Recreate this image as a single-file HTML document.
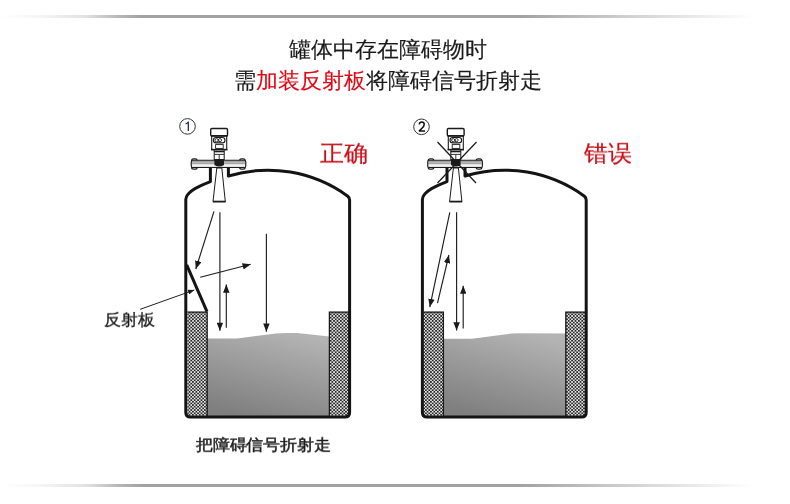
<!DOCTYPE html>
<html><head><meta charset="utf-8">
<style>
html,body{margin:0;padding:0;background:#fff;}
body{width:790px;height:504px;position:relative;overflow:hidden;font-family:"Liberation Sans",sans-serif;}
.t{position:absolute;white-space:nowrap;line-height:1;will-change:transform;}
.hr{position:absolute;left:0;width:790px;height:3px;background:linear-gradient(to right,rgba(160,160,160,0) 0px,rgba(160,160,160,.1) 40px,rgba(160,160,160,.3) 85px,rgba(160,160,160,.75) 118px,#a2a2a2 142px,#a2a2a2 520px,rgba(160,160,160,.4) 650px,rgba(160,160,160,0) 752px);}
svg{position:absolute;left:0;top:0;}
</style></head><body>
<div class="hr" style="top:15px"></div>
<div class="hr" style="top:484px"></div>

<div class="t" style="left:289px;top:39px;font-size:22px;color:#1a1a1a;-webkit-text-stroke:0.15px #1a1a1a">罐体中存在障碍物时</div>
<div class="t" style="left:234px;top:70px;font-size:22px;color:#1a1a1a;-webkit-text-stroke:0.15px #1a1a1a">需<span style="color:#de0a14;-webkit-text-stroke:0.15px #de0a14">加装反射板</span>将障碍信号折射走</div>
<div class="t" style="left:320px;top:140.7px;font-size:24px;color:#c90f19;-webkit-text-stroke:0.2px #c90f19;transform:scaleY(0.95);transform-origin:0 100%">正确</div>
<div class="t" style="left:583.5px;top:140.7px;font-size:24px;color:#c90f19;-webkit-text-stroke:0.2px #c90f19;transform:scaleY(0.95);transform-origin:0 100%">错误</div>
<div class="t" style="left:104.2px;top:311px;font-size:17.2px;color:#1a1a1a;-webkit-text-stroke:0.3px #1a1a1a;transform:scaleY(0.95);transform-origin:0 100%">反射板</div>
<div class="t" style="left:196.3px;top:436.6px;font-size:16.6px;letter-spacing:-0.2px;-webkit-text-stroke:0.5px #1e1e1e;transform:scaleY(0.93);transform-origin:0 100%;color:#1e1e1e">把障碍信号折射走</div>

<svg width="790" height="504" viewBox="0 0 790 504">
<defs>
<pattern id="hatch" width="3.4" height="3.3" patternUnits="userSpaceOnUse">
<rect width="3.4" height="3.3" fill="#ebebeb"/>
<path d="M0,0 H1.8 V1.75 H0 Z M1.7,1.65 H3.4 V3.3 H1.7 Z" fill="#262626"/>
</pattern>
<linearGradient id="liq" x1="0.3" y1="1" x2="0.7" y2="0">
<stop offset="0" stop-color="#7f7f7f"/><stop offset="1" stop-color="#b3b3b3"/>
</linearGradient>
<marker id="ah" viewBox="0 0 10 8" refX="10" refY="4" markerWidth="8.5" markerHeight="6.5" markerUnits="userSpaceOnUse" orient="auto">
<path d="M0,0 L10,4 L0,8 Z" fill="#1a1a1a"/>
</marker>
<marker id="ahs" viewBox="0 0 10 8" refX="10" refY="4" markerWidth="7" markerHeight="5" markerUnits="userSpaceOnUse" orient="auto">
<path d="M0,0 L10,4 L0,8 Z" fill="#1a1a1a"/>
</marker>
<g id="meter">
 <rect x="210.7" y="128.5" width="16.8" height="7.4" rx="1.2" fill="#fff" stroke="#1a1a1a" stroke-width="1.4"/>
 <rect x="211.7" y="136" width="15" height="13.6" fill="#fff" stroke="#1a1a1a" stroke-width="1.1"/>
 <line x1="211" y1="135.9" x2="227.4" y2="135.9" stroke="#1a1a1a" stroke-width="1.6"/>
 <rect x="213.4" y="137.5" width="11.6" height="5.4" rx="2.7" fill="#fff" stroke="#1a1a1a" stroke-width="1.1"/>
 <circle cx="216.6" cy="140.2" r="1.6" fill="none" stroke="#1a1a1a" stroke-width="0.9"/>
 <circle cx="219.9" cy="140.2" r="1.6" fill="none" stroke="#1a1a1a" stroke-width="0.9"/>
 <circle cx="219.2" cy="141.2" r="0.6" fill="#1a1a1a"/>
 <rect x="215.6" y="144.6" width="7.6" height="3.8" fill="#fff" stroke="#1a1a1a" stroke-width="0.9"/>
 <line x1="211" y1="149.6" x2="227.4" y2="149.6" stroke="#1a1a1a" stroke-width="1.5"/>
 <rect x="214.2" y="150" width="10" height="10" fill="#fff" stroke="#1a1a1a" stroke-width="1"/>
 <line x1="214.2" y1="151.6" x2="224.2" y2="151.6" stroke="#1a1a1a" stroke-width="1.4"/>
 <line x1="214.2" y1="154.4" x2="224.2" y2="154.4" stroke="#1a1a1a" stroke-width="0.9"/>
 <line x1="219.2" y1="155" x2="219.2" y2="159" stroke="#1a1a1a" stroke-width="0.9"/>
 <rect x="191.6" y="158.9" width="5.6" height="10.2" rx="1.9" fill="#fff" stroke="#1a1a1a" stroke-width="1.2"/>
 <rect x="239.6" y="158.9" width="5.6" height="10.2" rx="1.9" fill="#fff" stroke="#1a1a1a" stroke-width="1.2"/>
 <rect x="191.2" y="160.3" width="54.6" height="7.2" rx="1.6" fill="#c9c9c9" stroke="#1a1a1a" stroke-width="1.1"/>
 <rect x="192" y="161.2" width="53" height="1.2" fill="#9a9a9a"/>
 <rect x="192" y="163.2" width="53" height="0.9" fill="#a0a0a0"/>
 <rect x="192" y="164.4" width="53" height="2.2" fill="#f2f2f2"/>
 <path d="M214.4,159 H224 V165 Q219.2,168.2 214.4,165 Z" fill="#1c1c1c"/>
 <path d="M216.8,168 L221.8,168 L225.3,201.5 L213,201.5 Z" fill="#fff" stroke="#1a1a1a" stroke-width="1"/>
 <line x1="212.8" y1="201.6" x2="225.6" y2="201.6" stroke="#1a1a1a" stroke-width="1.8"/>
</g>
</defs>

<!-- ===== TANK 1 ===== -->
<g id="tank1">
<path d="M207,338.4 L237,338.4 L276,333.6 Q281,333 286,333 L297,333.1 L329.5,336.6 L329.5,416 L207,416 Z" fill="url(#liq)"/>
<rect x="187.4" y="311.8" width="19.6" height="104" fill="url(#hatch)"/>
<rect x="329.4" y="311.8" width="19.6" height="104" fill="url(#hatch)"/>
<path d="M187.4,312.2 H207.2 V416" fill="none" stroke="#1a1a1a" stroke-width="1.3"/>
<path d="M349,312.2 H329.4 V416" fill="none" stroke="#1a1a1a" stroke-width="1.3"/>
<path d="M210.4,167.8 V181.6 C202,184.8 186,191 185.8,199.5 V412.5 Q185.8,417 190.3,417 H345 Q349.6,417 349.6,412.5 V200 Q349.6,197.6 347.8,196.2 A136,136 0 0 0 228.4,176 V167.8" fill="none" stroke="#141414" stroke-width="3" stroke-linejoin="round"/>
<use href="#meter"/>
<!-- reflector -->
<line x1="186.7" y1="264.8" x2="207" y2="311.6" stroke="#141414" stroke-width="3"/>
<g stroke="#1e1e1e" stroke-width="1.15" fill="none" marker-end="url(#ah)">
<line x1="214" y1="211.4" x2="195.8" y2="269"/>
<line x1="219.9" y1="212.3" x2="219.9" y2="330.8"/>
<line x1="200.2" y1="277.2" x2="250.7" y2="264.3"/>
<line x1="226.3" y1="327.8" x2="226.3" y2="284.5"/>
<line x1="266.4" y1="233.7" x2="266.4" y2="331.7"/>
<line x1="140.2" y1="309.3" x2="194.3" y2="290" stroke-width="1" marker-end="url(#ahs)"/>
</g>
<circle cx="187.5" cy="126.4" r="7.8" fill="none" stroke="#333" stroke-width="1"/>
<path d="M185.6,124 Q187.4,123.3 188.3,122 V130.9" fill="none" stroke="#1f2a55" stroke-width="1.3" stroke-linejoin="round"/>
</g>

<!-- ===== TANK 2 ===== -->
<g id="tank2">
<path d="M443,338.8 L472,338.8 L512,333.6 Q515,333.2 518,333.2 L566,333.5 L566,416 L443,416 Z" fill="url(#liq)"/>
<rect x="423.6" y="311.8" width="19.6" height="104" fill="url(#hatch)"/>
<rect x="565.8" y="311.8" width="19.6" height="104" fill="url(#hatch)"/>
<path d="M423.6,312.2 H443.4 V416" fill="none" stroke="#1a1a1a" stroke-width="1.3"/>
<path d="M585.4,312.2 H565.8 V416" fill="none" stroke="#1a1a1a" stroke-width="1.3"/>
<g transform="translate(236.6,0)">
<path d="M210.4,167.8 V181.6 C202,184.8 186,191 185.8,199.5 V412.5 Q185.8,417 190.3,417 H345 Q349.6,417 349.6,412.5 V200 Q349.6,197.6 347.8,196.2 A136,136 0 0 0 228.4,176 V167.8" fill="none" stroke="#141414" stroke-width="3" stroke-linejoin="round"/>
<use href="#meter"/>
</g>
<g stroke="#1e1e1e" stroke-width="1.15" fill="none" marker-end="url(#ah)">
<line x1="449.8" y1="212.3" x2="429.8" y2="307.1"/>
<line x1="437.5" y1="303.2" x2="448.9" y2="255"/>
<line x1="456.6" y1="212.3" x2="456.6" y2="330.4"/>
<line x1="463.2" y1="328.6" x2="463.2" y2="285.7"/>
</g>
<g stroke="#1a1a1a" stroke-width="1.25">
<line x1="437.5" y1="142" x2="476" y2="183"/>
<line x1="476.5" y1="142" x2="437.5" y2="183"/>
</g>
<circle cx="421.5" cy="126.8" r="7.8" fill="none" stroke="#333" stroke-width="1"/>
<path d="M419.3,124.5 Q419.4,122 421.8,122 Q424.2,122 424.2,124.4 Q424.2,126.1 422.2,128 L419.3,130.9 H425" fill="none" stroke="#111" stroke-width="1.5" stroke-linejoin="round"/>
</g>
</svg>
</body></html>
